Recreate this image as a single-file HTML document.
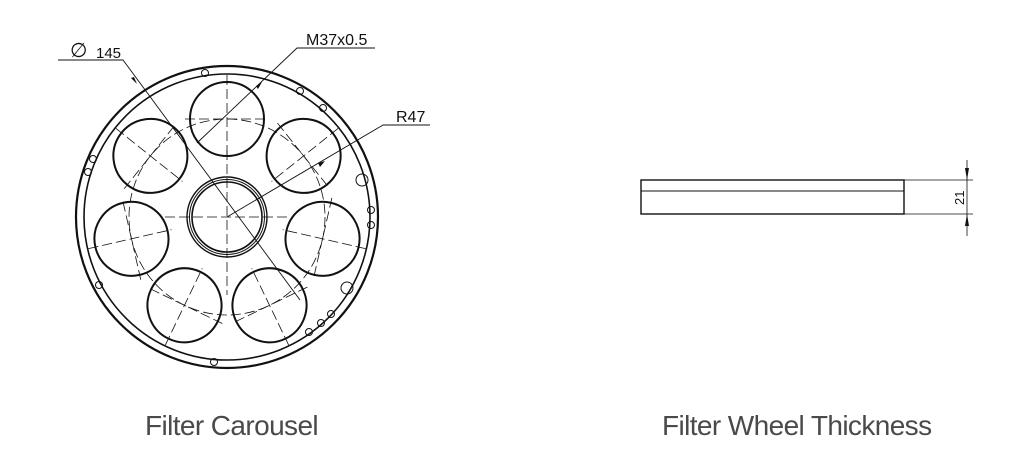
<!DOCTYPE html>
<html><head><style>
body{margin:0;width:1024px;height:475px;background:#fff;overflow:hidden;position:relative;font-family:"Liberation Sans",sans-serif}
.lbl{position:absolute;top:410px;font-size:28px;color:#4a4a4a;letter-spacing:-0.6px}
</style></head><body>
<svg width="1024" height="475" style="position:absolute;left:0;top:0" font-family="Liberation Sans, sans-serif">
<g fill="none" stroke="#111">
<circle cx="227" cy="217" r="151" stroke-width="2.2"/>
<circle cx="227" cy="217" r="143" stroke-width="1.6"/>
<circle cx="227" cy="217" r="98" stroke-width="0.8" stroke-dasharray="10,4"/>
<circle cx="227" cy="217" r="40" stroke-width="1.4"/>
<circle cx="227" cy="217" r="37.5" stroke-width="1"/>
<circle cx="227" cy="217" r="35" stroke-width="1.6"/>
<g stroke-width="0.8" stroke-dasharray="10,4">
<line x1="165" y1="217" x2="290" y2="217"/><line x1="227" y1="150" x2="227" y2="295"/>
</g>
<g id="c">
<circle cx="227" cy="119" r="37" stroke-width="2"/>
<line x1="227" y1="75" x2="227" y2="160" stroke-width="0.8" stroke-dasharray="10,4"/>
<line x1="185" y1="119" x2="269" y2="119" stroke-width="0.8" stroke-dasharray="10,4"/>
</g>
<use href="#c" transform="rotate(51.43 227 217)"/>
<use href="#c" transform="rotate(102.86 227 217)"/>
<use href="#c" transform="rotate(154.29 227 217)"/>
<use href="#c" transform="rotate(205.71 227 217)"/>
<use href="#c" transform="rotate(257.14 227 217)"/>
<use href="#c" transform="rotate(308.57 227 217)"/>
<g stroke-width="1">
<circle cx="205" cy="73" r="3.5"/><circle cx="300" cy="91" r="3.5"/><circle cx="323" cy="108" r="3.5"/>
<circle cx="362" cy="180" r="6"/><circle cx="371" cy="210" r="3.5"/><circle cx="371" cy="225" r="3.5"/>
<circle cx="347" cy="288" r="6"/><circle cx="331" cy="314" r="3.5"/><circle cx="321" cy="323" r="3.5"/><circle cx="309" cy="332" r="3.5"/>
<circle cx="214" cy="362" r="3.5"/><circle cx="99" cy="285" r="3.5"/><circle cx="93" cy="159" r="3.5"/><circle cx="88" cy="172" r="3.5"/>
</g>
<g stroke-width="0.9">
<polyline points="58,60 123,60 300,300"/>
<polyline points="375,48 297,48 197,143"/>
<polyline points="430,125 383,125 227,217"/>
</g>
<rect x="641" y="180" width="263" height="34" stroke-width="1.4"/>
<line x1="641" y1="191" x2="904" y2="191" stroke-width="1"/>
<g stroke-width="0.8">
<line x1="904" y1="180" x2="973" y2="180"/><line x1="904" y1="214" x2="973" y2="214"/>
<line x1="967" y1="160" x2="967" y2="236"/>
</g>
</g>
<g fill="#111">
<polygon points="137,84 131,78 134,77"/>
<polygon points="262,82 256,86 258,89"/>
<polygon points="325,161 318,163 320,167"/>
<polygon points="967,180 965,168 969,168"/>
<polygon points="967,214 965,226 969,226"/>
</g>
<g font-size="15" fill="#111">
<text x="70" y="57" font-size="20">∅</text><text x="96" y="58" font-size="15">145</text>
<text x="306" y="45" font-size="16">M37x0.5</text>
<text x="396" y="122" font-size="16">R47</text>
<text x="0" y="0" transform="translate(964,205) rotate(-90)" font-size="13">21</text>
</g>
</svg>
<div class="lbl" style="left:145px">Filter Carousel</div>
<div class="lbl" style="left:662px">Filter Wheel Thickness</div>
</body></html>
